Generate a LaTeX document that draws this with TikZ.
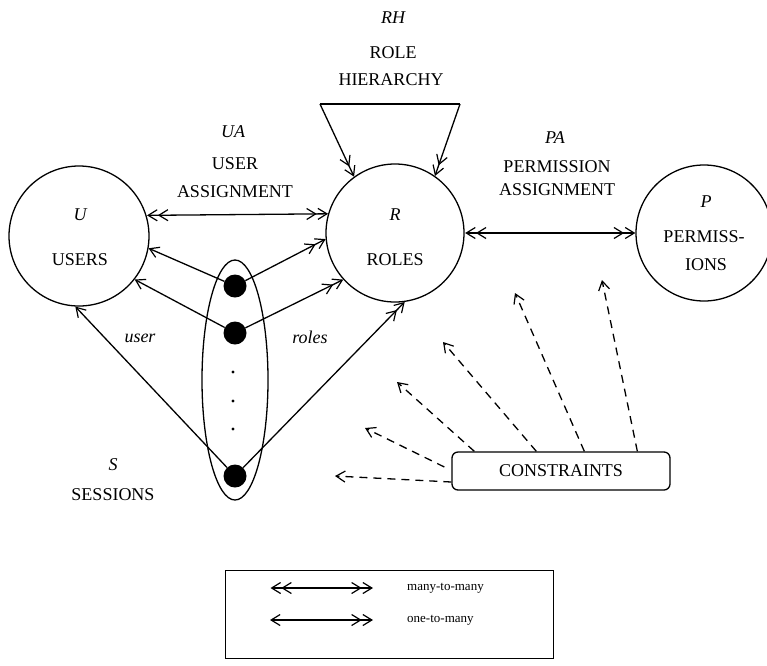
\documentclass[tikz,border=0pt]{standalone}
\usepackage{fontspec}
\setmainfont{Liberation Serif}
\usetikzlibrary{arrows.meta,calc,shapes.geometric}

\tikzset{
  mybarb/.tip={Straight Barb[length=9pt,width=11pt,line width=1.2pt]},
  base/.style={line width=1.3pt},
  toone/.style={base,-{mybarb}},
  tomany/.style={base,-{mybarb[sep=0.5pt]mybarb}},
  manymany/.style={base,{mybarb[sep=0.5pt]mybarb}-{mybarb[sep=0.5pt]mybarb}},
  onemany/.style={base,{mybarb}-{mybarb[sep=0.5pt]mybarb}},
  constr/.style={base,dash pattern=on 8pt off 6pt,-{mybarb}},
  set/.style={circle,draw,line width=1.3pt,inner sep=0pt},
  sess/.style={circle,fill=black,inner sep=0pt,minimum size=23pt},
  lbl/.style={font=\fontsize{18}{21}\selectfont,inner sep=0pt},
  ilbl/.style={font=\fontsize{18}{21}\selectfont\itshape,inner sep=0pt},
  smalllbl/.style={font=\fontsize{13}{15}\selectfont,inner sep=0pt},
}

\begin{document}
\begin{tikzpicture}[x=1pt,y=-1pt]
\useasboundingbox (0,0) rectangle (767,665);

% the three sets
\node[set,minimum size=140pt] (users) at (79,236) {};
\node[set,minimum size=138pt] (roles) at (395,233) {};
\node[set,minimum size=136pt] (perms) at (704,233) {};

\node[ilbl] (ulbl) at (80,215) {U};
\node[lbl]  (uname) at (80,260) {USERS};
\node[ilbl] (rlbl) at (395,215) {R};
\node[lbl]  (rname) at (395,260) {ROLES};
\node[ilbl] (plbl) at (706,202) {P};
\node[lbl]  (pname1) at (704,237) {PERMISS-};
\node[lbl]  (pname2) at (706,265) {IONS};

% role hierarchy
\node[ilbl] (rh) at (393,18) {RH};
\node[lbl]  (rh1) at (393,53) {ROLE};
\node[lbl]  (rh2) at (391,80) {HIERARCHY};
\coordinate (rhL) at (320,104);
\coordinate (rhR) at (460,104);
\draw[base] (rhL) -- (rhR);
\draw[tomany] (rhL) -- (roles.126);
\draw[tomany] (rhR) -- (roles.55);

% user assignment
\node[ilbl] (ua) at (233,132) {UA};
\node[lbl]  (ua1) at (235,164) {USER};
\node[lbl]  (ua2) at (235,192) {ASSIGNMENT};
\draw[manymany] (users.17.5) -- (roles.164.9);

% permission assignment
\node[ilbl] (pa) at (555,138) {PA};
\node[lbl]  (pa1) at (557,167) {PERMISSION};
\node[lbl]  (pa2) at (557,190) {ASSIGNMENT};
\draw[manymany] (roles.east) -- (perms.west);

% sessions
\node[ellipse,draw,line width=1.3pt,minimum width=66pt,minimum height=240pt,inner sep=0pt] (sessions) at (235,380) {};
\node[sess] (d1) at (235,286) {};
\node[sess] (d2) at (235,333) {};
\node[sess] (d3) at (235,476) {};
\foreach \y/\n in {372/a,401/b,429/c}
  \fill (233,\y) circle (1.6pt) coordinate (dot\n);
\node[ilbl] (slbl) at (113,465) {S};
\node[lbl]  (sname) at (113,495) {SESSIONS};

\draw[toone] (d1) -- (users.-10);
\draw[toone] (d2) -- (users.-38);
\draw[toone] (d3) -- (users.-93);
\draw[tomany] (d1) -- (roles.185);
\draw[tomany] (d2) -- (roles.222);
\draw[tomany] (d3) -- (roles.278);
\node[ilbl] (ulabel) at (140,338) {user};
\node[ilbl] (rlabel) at (310,337) {roles};

% constraints
\node[draw,base,rounded corners=6pt,minimum width=218pt,minimum height=38pt,lbl] (cons) at (561,471) {CONSTRAINTS};
\coordinate (c1) at (335,476);
\coordinate (c2) at (365,428);
\coordinate (c3) at (397,382);
\coordinate (c4) at (443,342);
\coordinate (c5) at (515,293);
\coordinate (c6) at (602,280);
\draw[constr] ($(cons.west)+(0,11)$) -- (c1);
\draw[constr] ($(cons.west)+(-7,-4)$) -- (c2);
\draw[constr] ($(cons.north west)+(23,0)$) -- (c3);
\draw[constr] ($(cons.north west)+(85,0)$) -- (c4);
\draw[constr] ($(cons.north west)+(133,0)$) -- (c5);
\draw[constr] ($(cons.north west)+(186,0)$) -- (c6);

% legend
\node[draw,line width=1pt,minimum width=328pt,minimum height=88pt,inner sep=0pt] (legend) at (389,614) {};
\coordinate (l1a) at (270,588);
\coordinate (l1b) at (373,588);
\coordinate (l2a) at (270,620);
\coordinate (l2b) at (373,620);
\draw[manymany] (l1a) -- (l1b);
\draw[onemany] (l2a) -- (l2b);
\node[smalllbl,anchor=west] (mm) at (407,588) {many-to-many};
\node[smalllbl,anchor=west] (om) at (407,620) {one-to-many};
\end{tikzpicture}
\end{document}
